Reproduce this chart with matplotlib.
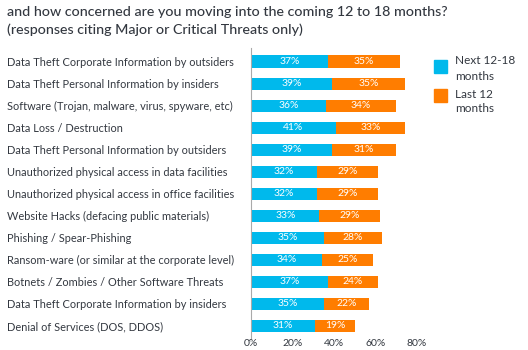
import numpy as np
import matplotlib.pyplot as plt

categories = [
    'Data Theft Corporate Information by outsiders',
    'Data Theft Personal Information by insiders',
    'Software (Trojan, malware, virus, spyware, etc)',
    'Data Loss / Destruction',
    'Data Theft Personal Information by outsiders',
    'Unauthorized physical access in data facilities',
    'Unauthorized physical access in office facilities',
    'Website Hacks (defacing public materials)',
    'Phishing / Spear-Phishing',
    'Ransom-ware (or similar at the corporate level)',
    'Botnets / Zombies / Other Software Threats',
    'Data Theft Corporate Information by insiders',
    'Denial of Services (DOS, DDOS)',
]
next_12_18 = [37, 39, 36, 41, 39, 32, 32, 33, 35, 34, 37, 35, 31]
last_12 = [35, 35, 34, 33, 31, 29, 29, 29, 28, 25, 24, 22, 19]
xticks = [0, 20, 40, 60, 80]
xticklabels = ['0%', '20%', '40%', '60%', '80%']

blue = '#00b9ec'
orange = '#ff7d00'
txt = '#333840'

plt.rcParams['font.family'] = ['Lato', 'DejaVu Sans']

W, H = 528, 350
fig = plt.figure(figsize=(W / 100, H / 100), dpi=100)

# axes placed in pixel coords: 0% at x=251, 80% at x=417
x0, x80 = 251, 417
right = x0 + (x80 - x0) * 100 / 80
top, bottom = 48, 338
ax = fig.add_axes([x0 / W, 1 - bottom / H, (right - x0) / W, (bottom - top) / H])

y = np.arange(len(categories))
bh = 0.56
ax.barh(y, next_12_18, height=bh, color=blue)
ax.barh(y, last_12, left=next_12_18, height=bh, color=orange)
for i in range(len(categories)):
    ax.text(next_12_18[i] / 2, y[i], f'{next_12_18[i]}%', ha='center', va='center',
            color='white', fontsize=7.5)
    ax.text(next_12_18[i] + last_12[i] / 2, y[i], f'{last_12[i]}%', ha='center', va='center',
            color='white', fontsize=7.5)

ax.set_xlim(0, 100)
ax.set_ylim(len(categories) - 0.45, -0.62)
ax.set_xticks(xticks)
ax.set_xticklabels(xticklabels, fontsize=7.5, color=txt)
ax.set_yticks(y)
ax.set_yticklabels(categories, fontsize=7.9, color=txt, ha='left')
ax.tick_params(axis='y', length=0, pad=(x0 - 7) * 0.72)
ax.tick_params(axis='x', length=0, pad=1)
for s in ['top', 'right', 'bottom']:
    ax.spines[s].set_visible(False)
ax.spines['left'].set_color('#aaaaaa')
ax.patch.set_visible(False)

fig.text(7 / W, 1 - 12 / H, 'and how concerned are you moving into the coming 12 to 18 months?',
         fontsize=10.3, color=txt, va='center', weight='medium')
fig.text(7 / W, 1 - 30 / H, '(responses citing Major or Critical Threats only)',
         fontsize=10.3, color=txt, va='center', weight='medium')

# legend
fig.patches.append(plt.Rectangle((434 / W, 1 - 73 / H), 13 / W, 13 / H,
                                 transform=fig.transFigure, color=blue))
fig.patches.append(plt.Rectangle((434 / W, 1 - 102 / H), 13 / W, 13 / H,
                                 transform=fig.transFigure, color=orange))
fig.text(455 / W, 1 - 61 / H, 'Next 12-18', fontsize=8.5, color=txt, va='center')
fig.text(455 / W, 1 - 76 / H, 'months', fontsize=8.5, color=txt, va='center')
fig.text(455 / W, 1 - 94 / H, 'Last 12', fontsize=8.5, color=txt, va='center')
fig.text(455 / W, 1 - 109 / H, 'months', fontsize=8.5, color=txt, va='center')

fig.savefig('out.png', dpi=100)
